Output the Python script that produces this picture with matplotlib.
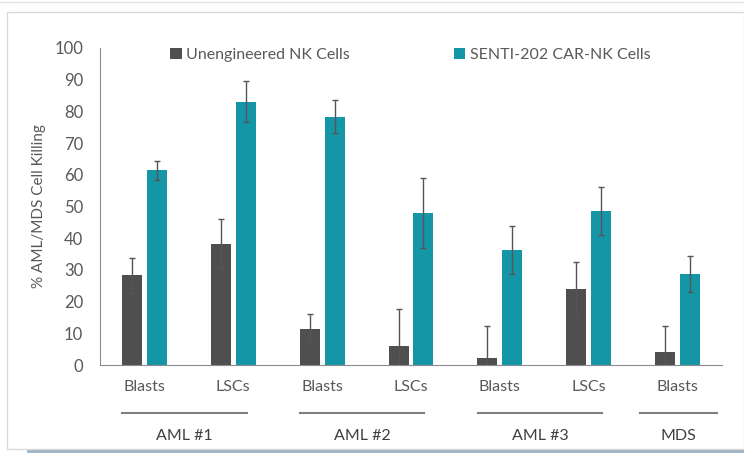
import matplotlib.pyplot as plt
import numpy as np
from matplotlib.patches import Rectangle
from matplotlib.lines import Line2D

categories = ["Blasts", "LSCs", "Blasts", "LSCs", "Blasts", "LSCs", "Blasts"]
groups = ["AML #1", "AML #2", "AML #3", "MDS"]
group_sizes = [2, 2, 2, 1]

unengineered = [28.3, 38.3, 11.5, 6.1, 2.3, 24.1, 4.2]
unengineered_err = [5.6, 7.8, 4.5, 11.7, 10.0, 8.4, 8.2]
senti = [61.5, 83.1, 78.3, 47.9, 36.4, 48.7, 28.6]
senti_err = [3.0, 6.5, 5.2, 11.0, 7.6, 7.6, 5.7]

gray = "#4f4f4f"
teal = "#1596a6"
txt = "#595959"

plt.rcParams["font.family"] = ["Lato", "DejaVu Sans"]

fig = plt.figure(figsize=(7.44, 4.53), dpi=100)
ax = fig.add_axes([100 / 744, 1 - 365 / 453, 622 / 744, 317 / 453])

x = np.arange(len(categories))
w = 0.225
ekw = dict(ecolor="#555555", elinewidth=1, capsize=2.5, capthick=1)
ax.bar(x - 0.14, unengineered, w, color=gray, yerr=unengineered_err,
       error_kw=ekw, label="Unengineered NK Cells")
ax.bar(x + 0.14, senti, w, color=teal, yerr=senti_err,
       error_kw=ekw, label="SENTI-202 CAR-NK Cells")

ax.set_xlim(-0.5, len(categories) - 0.5)
ax.set_ylim(0, 100)
ax.set_yticks(range(0, 101, 10))
ax.tick_params(axis="y", length=0, labelsize=12, colors=txt, pad=12)
ax.set_xticks([])
for s in ["top", "right"]:
    ax.spines[s].set_visible(False)
ax.spines["left"].set_color("#8c8c8c")
ax.spines["bottom"].set_color("#8c8c8c")
ax.set_ylabel("% AML/MDS Cell Killing", fontsize=11, color=txt, labelpad=6)

for i, c in enumerate(categories):
    ax.text(i, -7, c, ha="center", va="center", fontsize=11.5, color=txt,
            clip_on=False)

start = 0
for g, n in zip(groups, group_sizes):
    end = start + n - 1
    if n > 1:
        x0, x1 = start - 0.25, end + 0.15
    else:
        x0, x1 = start - 0.42, start + 0.44
    ax.add_line(Line2D([x0, x1], [-15, -15], color="#7f7f7f", lw=1.5, clip_on=False))
    ax.text((x0 + x1) / 2, -22.5, g, ha="center", va="center", fontsize=11.5,
            color="#404040", clip_on=False)
    start += n

ax.legend(loc="upper left", bbox_to_anchor=(0.09, 1.045), ncol=2, frameon=False,
          fontsize=11.5, labelcolor=txt, handlelength=0.7, handleheight=0.7,
          handletextpad=0.3, columnspacing=6.5)

# outer frame
fig.patches.append(Rectangle((7 / 744, 1 - 449 / 453), 737 / 744, 437 / 453,
                             transform=fig.transFigure, fill=False,
                             edgecolor="#d9d9d9", lw=1))
fig.add_artist(Line2D([28 / 744, 1], [1 - 451 / 453] * 2, transform=fig.transFigure,
                      color="#9fb3c4", lw=2))
fig.add_artist(Line2D([0, 1], [1 - 2 / 453] * 2, transform=fig.transFigure,
                      color="#e6e6e6", lw=1))

fig.savefig("out.png", dpi=100)
